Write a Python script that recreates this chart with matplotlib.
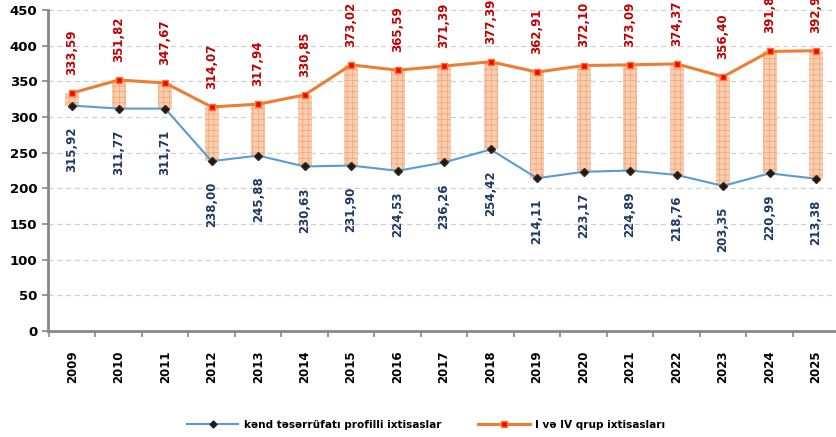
import matplotlib
matplotlib.use("Agg")
import matplotlib.pyplot as plt
from matplotlib.lines import Line2D
import numpy as np

years = ["2009", "2010", "2011", "2012", "2013", "2014", "2015", "2016", "2017",
         "2018", "2019", "2020", "2021", "2022", "2023", "2024", "2025"]
agri = [315.92, 311.77, 311.71, 238.00, 245.88, 230.63, 231.90, 224.53, 236.26,
        254.42, 214.11, 223.17, 224.89, 218.76, 203.35, 220.99, 213.38]
group = [333.59, 351.82, 347.67, 314.07, 317.94, 330.85, 373.02, 365.59, 371.39,
         377.39, 362.91, 372.10, 373.09, 374.37, 356.40, 391.84, 392.92]
name_agri = "kənd təsərrüfatı profilli ixtisaslar"
name_group = "I və IV qrup ixtisasları"
y_ticks = [0, 50, 100, 150, 200, 250, 300, 350, 400, 450]

plt.rcParams['hatch.linewidth'] = 0.5

fig = plt.figure(figsize=(8.37, 4.37), dpi=100)
ax = fig.add_axes([0.0573, 0.2426, 0.9455, 0.7346])

x = np.arange(len(years))
lo = np.array(agri)
hi = np.array(group)
ax.bar(x, hi - lo, bottom=lo, width=0.3, color='#f9cdb0', hatch='+++',
       edgecolor='#f3a474', linewidth=0, zorder=2)

ax.plot(x, agri, color='#5b9bd5', lw=1.5, marker='D', markersize=4,
        markerfacecolor='#1a1a1a', markeredgecolor='#3a2a1a', zorder=4)
ax.plot(x, group, color='#ed7d31', lw=2.2, marker='s', markersize=5,
        markerfacecolor='#ff0000', markeredgecolor='#ed7d31', markeredgewidth=1, zorder=4)

for xi, v in zip(x, group):
    ax.annotate(f"{v:.2f}".replace('.', ','), (xi, v), xytext=(0, 13),
                textcoords='offset points', rotation=90, ha='center', va='bottom',
                color='#c00000', fontsize=8.5, fontweight='bold', annotation_clip=False)
for xi, v in zip(x, agri):
    ax.annotate(f"{v:.2f}".replace('.', ','), (xi, v), xytext=(0, -15),
                textcoords='offset points', rotation=90, ha='center', va='top',
                color='#1f3864', fontsize=8.5, fontweight='bold', annotation_clip=False)

ax.set_ylim(0, 450)
ax.set_yticks(y_ticks)
ax.set_xlim(-0.52, 16.45)
ax.set_xticks(x)
ax.set_xticklabels(years, rotation=90, fontsize=8.5, fontweight='bold')
ax.set_xticks(np.arange(-0.5, 16.6, 1), minor=True)
ax.tick_params(axis='x', which='major', length=0, pad=14)
ax.tick_params(axis='x', which='minor', length=4, width=1.2, color='#888888')
ax.tick_params(axis='y', length=4, width=1.2, color='#888888', labelsize=9.5)
for lbl in ax.get_yticklabels():
    lbl.set_fontweight('bold')

ax.grid(axis='y', linestyle=(0, (4, 3)), color='#d0d0d0', lw=0.9, zorder=0)
ax.set_axisbelow(True)
for s in ['top', 'right']:
    ax.spines[s].set_visible(False)
for s in ['left', 'bottom']:
    ax.spines[s].set_color('#888888')
    ax.spines[s].set_linewidth(2)

handles = [
    Line2D([], [], color='#5b9bd5', lw=1.5, marker='D', markersize=3.5,
           markerfacecolor='#1a1a1a', markeredgecolor='#1a1a1a'),
    Line2D([], [], color='#ed7d31', lw=2.2, marker='s', markersize=5,
           markerfacecolor='#ff0000', markeredgecolor='#ed7d31'),
]
fig.legend(handles, [name_agri, name_group], loc='center', bbox_to_anchor=(0.509, 0.028),
           ncol=2, frameon=False, prop={'weight': 'bold', 'size': 7.6},
           handlelength=4.9, handletextpad=0.5, columnspacing=3.5)

fig.savefig("out.png", dpi=100)
